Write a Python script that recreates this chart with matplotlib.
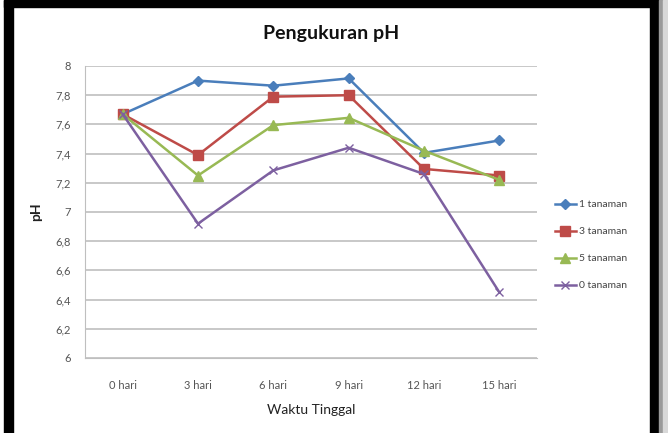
import matplotlib
matplotlib.use("Agg")
import matplotlib.pyplot as plt
from matplotlib.patches import Rectangle

plt.rcParams['font.family'] = ['Lato', 'DejaVu Sans']

categories = ["0 hari", "3 hari", "6 hari", "9 hari", "12 hari", "15 hari"]
series_names = ["1 tanaman", "3 tanaman", "5 tanaman", "0 tanaman"]
s1 = [7.67, 7.90, 7.865, 7.915, 7.405, 7.49]
s3 = [7.67, 7.39, 7.79, 7.80, 7.295, 7.25]
s5 = [7.67, 7.25, 7.595, 7.645, 7.42, 7.22]
s0 = [7.67, 6.92, 7.285, 7.44, 7.26, 6.45]
yticks = [6, 6.2, 6.4, 6.6, 6.8, 7, 7.2, 7.4, 7.6, 7.8, 8]
ytick_labels = ["6", "6,2", "6,4", "6,6", "6,8", "7", "7,2", "7,4", "7,6", "7,8", "8"]

W, H = 668, 433
fig = plt.figure(figsize=(W / 100, H / 100), dpi=100)
fig.patch.set_facecolor("white")

def frect(x0, y0, x1, y1, color):
    fig.patches.append(Rectangle((x0 / W, 1 - y1 / H), (x1 - x0) / W, (y1 - y0) / H,
                                 transform=fig.transFigure, color=color, zorder=-5))
frect(4, 0, 13, 433, "black")
frect(4, 0, 658, 7, "black")
frect(650, 0, 659, 433, "black")
frect(659, 0, 663, 433, "#9a9a9a")
frect(663, 0, 668, 433, "#d8d8d8")

ax = fig.add_axes([85 / W, 1 - 358 / H, 452 / W, 292 / H])
x = list(range(len(categories)))
colors = ["#4A7EBB", "#BE4B48", "#98B954", "#7D60A0"]
markers = ["D", "s", "^", "x"]
msizes = [5, 7.5, 6.5, 6]
data = [s1, s3, s5, s0]
for vals, c, m, ms, name in zip(data, colors, markers, msizes, series_names):
    ax.plot(x, vals, color=c, lw=1.8, marker=m, markersize=ms, label=name,
            markeredgecolor=c, markerfacecolor=c, mew=1.0)

ax.set_xlim(-0.5, len(categories) - 0.5)
ax.set_ylim(6, 8)
ax.set_yticks(yticks)
ax.set_yticklabels(ytick_labels)
ax.set_xticks(x)
ax.set_xticklabels(categories)
ax.grid(axis="y", color="#bfbfbf", lw=1.2)
ax.set_axisbelow(True)
for s in ["top", "right"]:
    ax.spines[s].set_visible(False)
ax.spines["left"].set_color("#bfbfbf")
ax.spines["bottom"].set_color("#bfbfbf")
ax.tick_params(axis="both", length=0, labelsize=8, colors="#555555")
ax.tick_params(axis="y", pad=10)
ax.tick_params(axis="x", pad=16)

ax.set_xlabel("Waktu Tinggal", fontsize=10, color="#222222", labelpad=9)
ax.set_ylabel("pH", fontsize=10, fontweight="bold", color="#222222", labelpad=10)
fig.text(331 / W, 1 - 34 / H, "Pengukuran pH", ha="center", va="center",
         fontsize=14, fontweight="bold", color="#111111")

ax.legend(loc="center left", bbox_to_anchor=(555 / W, 1 - 245 / H),
          bbox_transform=fig.transFigure, frameon=False,
          fontsize=7.5, labelspacing=1.7, handlelength=2.0, handletextpad=0.3,
          labelcolor="#444444", borderaxespad=0, borderpad=0)

fig.savefig("out.png", dpi=100)
